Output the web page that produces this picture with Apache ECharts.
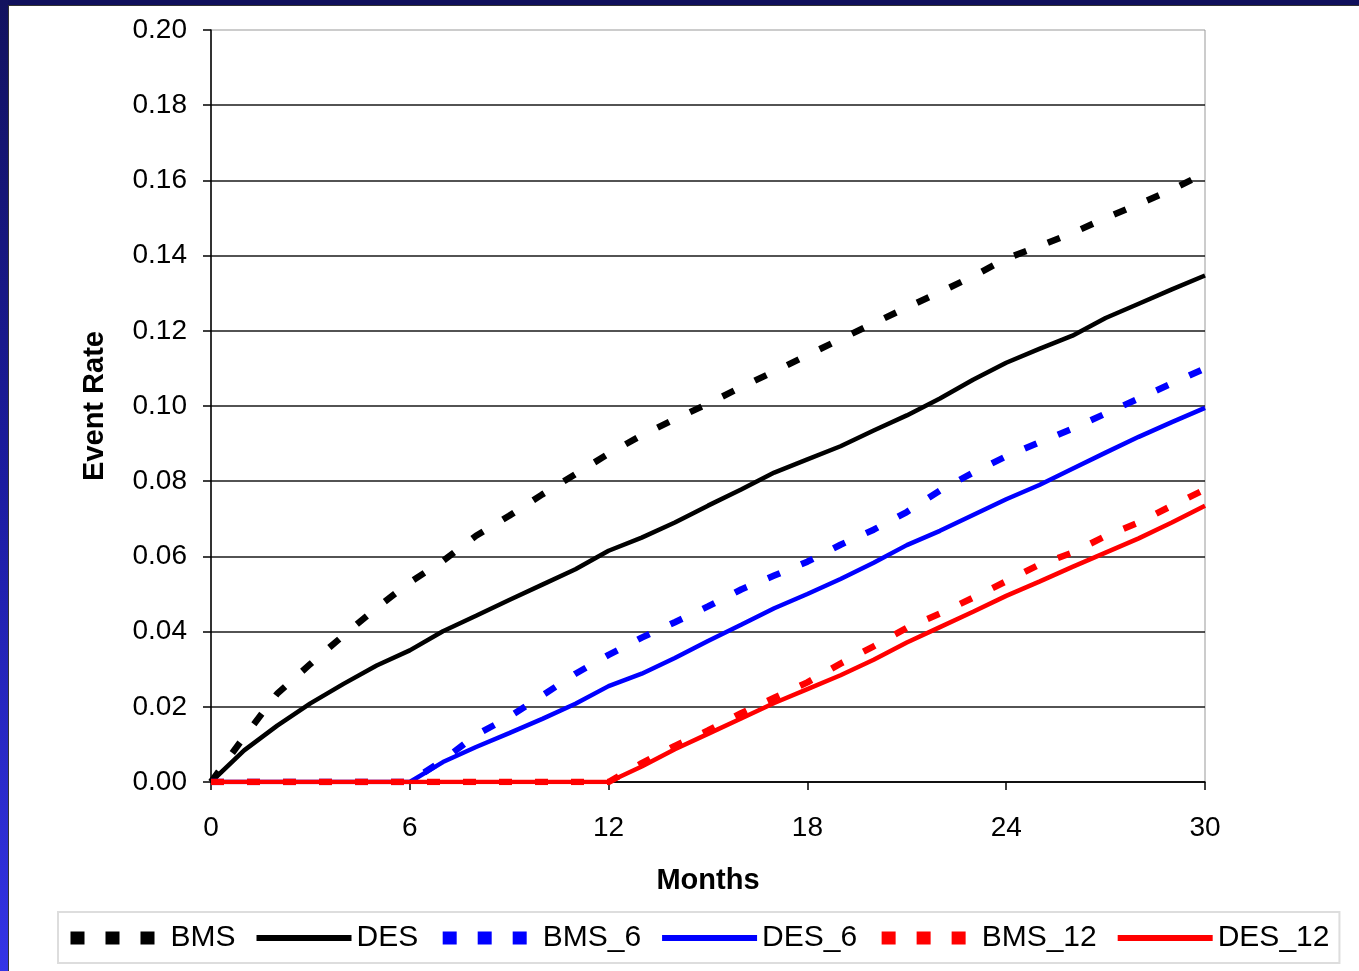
<!DOCTYPE html>
<html>
<head>
<meta charset="utf-8">
<script src="https://cdn.jsdelivr.net/npm/echarts@6/dist/echarts.min.js"></script>
<style>
  html, body { margin: 0; padding: 0; width: 1359px; height: 971px; overflow: hidden; background: #fff; }
  #topband { position: absolute; left: 0; top: 0; width: 1359px; height: 5px; background: #10105c; z-index: 5; }
  #leftband { position: absolute; left: 0; top: 0; width: 8px; height: 971px; z-index: 5;
    background: linear-gradient(to bottom, #12125e 0%, #1c1ca0 50%, #3434e6 100%); }
  #edge { position: absolute; left: 8px; top: 5px; width: 1351px; height: 966px; border-left: 1px solid #333; border-top: 1px solid #333; box-sizing: border-box; z-index: 4; pointer-events: none; }
  #chart { position: absolute; left: 0; top: 0; width: 1359px; height: 971px; }
</style>
</head>
<body>
<div id="chart"></div>
<div id="topband"></div>
<div id="leftband"></div>
<div id="edge"></div>
<script>
// months 0..30
const months = [0, 1, 2, 3, 4, 5, 6, 7, 8, 9, 10, 11, 12, 13, 14, 15, 16, 17, 18, 19, 20, 21, 22, 23, 24, 25, 26, 27, 28, 29, 30]

const bms = [0, 0.012, 0.0235, 0.0314, 0.039, 0.0463, 0.0531, 0.0588, 0.0655, 0.0708, 0.0765, 0.0819, 0.0873,
  0.0922, 0.0965, 0.1006, 0.105, 0.1092, 0.1135, 0.1178, 0.122, 0.1262, 0.1303, 0.1345, 0.1392,
  0.1425, 0.146, 0.15, 0.1537, 0.1575, 0.162]
const des = [0, 0.0084, 0.015, 0.0209, 0.0261, 0.031, 0.035, 0.0401, 0.0442, 0.0484, 0.0525, 0.0566, 0.0615,
  0.065, 0.069, 0.0735, 0.0778, 0.0823, 0.0858, 0.0893, 0.0935, 0.0975, 0.102, 0.107, 0.1115,
  0.1152, 0.1187, 0.1234, 0.1272, 0.131, 0.1347]
const bms6 = [0, 0, 0, 0, 0, 0, 0, 0.0058, 0.0125, 0.0173, 0.023, 0.0288, 0.0338,
  0.0384, 0.0425, 0.0467, 0.0512, 0.0549, 0.0586, 0.0631, 0.0671, 0.0718, 0.0775, 0.0823, 0.0866,
  0.0903, 0.094, 0.098, 0.102, 0.106, 0.11]
const des6 = [0, 0, 0, 0, 0, 0, 0, 0.0053, 0.0093, 0.013, 0.0168, 0.0208, 0.0255,
  0.0288, 0.033, 0.0375, 0.0418, 0.0462, 0.05, 0.054, 0.0583, 0.063, 0.0668, 0.071, 0.0752,
  0.079, 0.0833, 0.0876, 0.0918, 0.0957, 0.0995]
const bms12 = [0, 0, 0, 0, 0, 0, 0, 0, 0, 0, 0, 0, 0,
  0.005, 0.0096, 0.0137, 0.0183, 0.0224, 0.0265, 0.0315, 0.0361, 0.041, 0.0448, 0.049, 0.0534,
  0.0578, 0.061, 0.0654, 0.069, 0.0735, 0.0778]
const des12 = [0, 0, 0, 0, 0, 0, 0, 0, 0, 0, 0, 0, 0,
  0.0041, 0.0087, 0.0128, 0.0169, 0.021, 0.0247, 0.0284, 0.0325, 0.0371, 0.0412, 0.0453, 0.0495,
  0.0533, 0.0572, 0.061, 0.0648, 0.069, 0.0735]

const xTicks = [0, 6, 12, 18, 24, 30]
const yTicks = [0, 0.02, 0.04, 0.06, 0.08, 0.1, 0.12, 0.14, 0.16, 0.18, 0.2]

const font = 'Arial, "Liberation Sans", sans-serif'
const pairs = (vals) => months.map((m, i) => [m, vals[i]])

const dash = [13, 23]
const mkSeries = (name, vals, color, dashed) => ({
  name,
  type: 'line',
  data: pairs(vals),
  symbol: 'none',
  smooth: false,
  animation: false,
  itemStyle: { color },
  lineStyle: dashed
    ? { color, width: 6.5, type: dash, cap: 'butt' }
    : { color, width: 4.5, type: 'solid' }
})

const legendItem = (name, color, dashed) => ({
  name,
  itemStyle: { opacity: 0 },
  lineStyle: dashed
    ? { color, width: 13, type: [14, 21], cap: 'butt' }
    : { color, width: 6, type: 'solid' }
})

const myChart = echarts.init(document.getElementById('chart'))
myChart.setOption({
  backgroundColor: '#fff',
  animation: false,
  grid: {
    left: 211, top: 30, width: 994, height: 752,
    show: true, borderColor: '#999', borderWidth: 1, backgroundColor: 'transparent'
  },
  legend: {
    left: 58, top: 912,
    padding: [11, 10, 10, 6],
    borderColor: '#ddd', borderWidth: 2,
    itemWidth: 95, itemHeight: 14, itemGap: 18,
    itemStyle: { opacity: 0 },
    textStyle: { fontSize: 30, color: '#000', fontFamily: font },
    data: [
      legendItem('BMS', '#000', true),
      legendItem('DES', '#000', false),
      legendItem('BMS_6', '#0000ff', true),
      legendItem('DES_6', '#0000ff', false),
      legendItem('BMS_12', '#ff0000', true),
      legendItem('DES_12', '#ff0000', false)
    ]
  },
  xAxis: {
    type: 'value',
    min: xTicks[0], max: xTicks[xTicks.length - 1], interval: 6,
    name: 'Months', nameLocation: 'middle', nameGap: 84,
    nameTextStyle: { fontSize: 29, fontWeight: 'bold', color: '#000', fontFamily: font },
    axisLine: { show: true, lineStyle: { color: '#000', width: 1.5 } },
    axisTick: { show: true, length: 8, lineStyle: { color: '#000', width: 1.5 } },
    axisLabel: { fontSize: 28, color: '#000', margin: 32, fontFamily: font },
    splitLine: { show: false }
  },
  yAxis: {
    type: 'value',
    min: yTicks[0], max: yTicks[yTicks.length - 1], interval: 0.02,
    name: 'Event Rate', nameLocation: 'middle', nameGap: 102, nameRotate: 90,
    nameTextStyle: { fontSize: 29, fontWeight: 'bold', color: '#000', fontFamily: font },
    axisLine: { show: true, lineStyle: { color: '#000', width: 1.5 } },
    axisTick: { show: true, length: 8, lineStyle: { color: '#000', width: 1.5 } },
    axisLabel: { fontSize: 28, color: '#000', margin: 24, fontFamily: font,
      formatter: (v) => v.toFixed(2) },
    splitLine: { show: true, showMaxLine: false, lineStyle: { color: '#1a1a1a', width: 1.5 } }
  },
  series: [
    mkSeries('BMS', bms, '#000', true),
    mkSeries('DES', des, '#000', false),
    mkSeries('BMS_6', bms6, '#0000ff', true),
    mkSeries('DES_6', des6, '#0000ff', false),
    mkSeries('BMS_12', bms12, '#ff0000', true),
    mkSeries('DES_12', des12, '#ff0000', false)
  ]
})
</script>
</body>
</html>
